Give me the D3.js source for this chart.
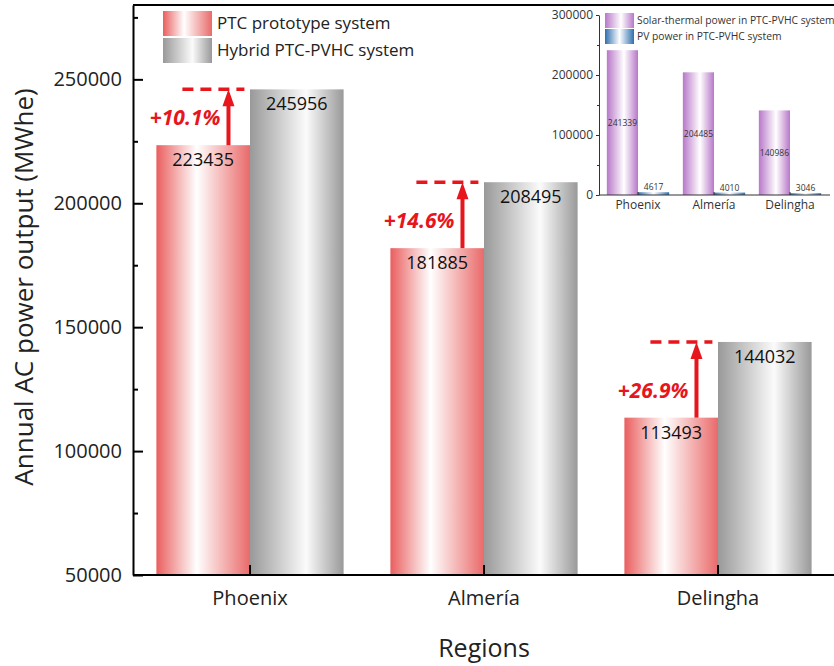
<!DOCTYPE html>
<html><head><meta charset="utf-8">
<script src="https://cdn.jsdelivr.net/npm/d3@7"></script>
<style>
html,body{margin:0;padding:0;background:#fff;overflow:hidden;}
svg{display:block;font-family:"Open Sans","Noto Sans",sans-serif;}
</style></head>
<body><svg id="chart" width="834" height="666"></svg>
<script>
// ---- data ----
const categories = ["Phoenix", "Almería", "Delingha"];
const ptcValues = [223435, 181885, 113493];
const hybridValues = [245956, 208495, 144032];
const increaseLabels = ["+10.1%", "+14.6%", "+26.9%"];
const seriesNames = ["PTC prototype system", "Hybrid PTC-PVHC system"];
const yTicks = [50000, 100000, 150000, 200000, 250000];
const yMinorTicks = [75000, 125000, 175000, 225000, 275000];

const insetSeriesNames = ["Solar-thermal power in PTC-PVHC system", "PV power in PTC-PVHC system"];
const solarThermalValues = [241339, 204485, 140986];
const pvValues = [4617, 4010, 3046];
const insetTicks = [0, 100000, 200000, 300000];
const insetMinorTicks = [50000, 150000, 250000];

// ---- setup ----
const svg = d3.select("#chart");
const defs = svg.append("defs");
function grad(id, stops) {
  const g = defs.append("linearGradient").attr("id", id)
    .attr("x1", "0%").attr("x2", "100%").attr("y1", "0%").attr("y2", "0%");
  stops.forEach(s => g.append("stop").attr("offset", s[0]).attr("stop-color", s[1]));
}
grad("gRed", [[0, "#ea5e5e"], [0.43, "#ffffff"], [1, "#ea6a6a"]]);
grad("gGrey", [[0, "#999999"], [0.6, "#fbfbfb"], [1, "#999999"]]);
grad("gPurple", [[0, "#b877c9"], [0.55, "#ffffff"], [1, "#b877c9"]]);
grad("gBlue", [[0, "#2f6fae"], [0.5, "#ffffff"], [1, "#2f6fae"]]);

const L = 133, R = 835, T = 5, B = 575;
const x = d3.scaleBand().domain(categories).range([L, R]).paddingInner(0.2).paddingOuter(0.1);
const xs = d3.scaleBand().domain([0, 1]).range([0, x.bandwidth()]);
const y = d3.scaleLinear().domain([50000, 280000]).range([B, T]);
const red = "#e8151d";

// top frame line (right edge of the frame lies outside the view)
svg.append("path").attr("d", `M${L},${T}H${R + 20}`)
  .attr("fill", "none").attr("stroke", "#000").attr("stroke-width", 2);

// bars
const groups = svg.append("g").selectAll("g").data(categories).join("g");
groups.append("rect")
  .attr("x", (d) => x(d) + xs(0)).attr("width", xs.bandwidth())
  .attr("y", (d, i) => y(ptcValues[i])).attr("height", (d, i) => B - y(ptcValues[i]))
  .attr("fill", "url(#gRed)");
groups.append("rect")
  .attr("x", (d) => x(d) + xs(1)).attr("width", xs.bandwidth())
  .attr("y", (d, i) => y(hybridValues[i])).attr("height", (d, i) => B - y(hybridValues[i]))
  .attr("fill", "url(#gGrey)");
// value labels
groups.append("text")
  .attr("x", d => x(d) + xs(0) + xs.bandwidth() / 2)
  .attr("y", (d, i) => y(ptcValues[i]) + 21)
  .attr("text-anchor", "middle").attr("font-size", 18).attr("fill", "#111")
  .text((d, i) => ptcValues[i]);
groups.append("text")
  .attr("x", d => x(d) + xs(1) + xs.bandwidth() / 2)
  .attr("y", (d, i) => y(hybridValues[i]) + 21)
  .attr("text-anchor", "middle").attr("font-size", 18).attr("fill", "#111")
  .text((d, i) => hybridValues[i]);

// annotations
groups.each(function(d, i) {
  const g = d3.select(this);
  const x0 = x(d) + xs(0);
  const bw = xs.bandwidth();
  const yTop = y(hybridValues[i]);
  const yLow = y(ptcValues[i]);
  const ax = x0 + bw * 0.77;
  g.append("line").attr("x1", x0 + 26).attr("x2", x0 + 88).attr("y1", yTop).attr("y2", yTop)
    .attr("stroke", red).attr("stroke-width", 3.5).attr("stroke-dasharray", "11,7");
  g.append("line").attr("x1", ax).attr("x2", ax).attr("y1", yLow).attr("y2", yTop + 14)
    .attr("stroke", red).attr("stroke-width", 4);
  g.append("path").attr("d", `M${ax},${yTop} L${ax - 6},${yTop + 17} L${ax + 6},${yTop + 17} Z`)
    .attr("fill", red);
  g.append("text").attr("x", ax - 8).attr("y", yLow - 20)
    .attr("text-anchor", "end").attr("font-size", 21).attr("font-weight", "bold")
    .attr("font-style", "italic").attr("fill", red).text(increaseLabels[i]);
});

// axes
const yAxis = svg.append("g").attr("transform", `translate(${L},0)`)
  .call(d3.axisLeft(y).tickValues(yTicks).tickSize(-10).tickSizeOuter(0).tickPadding(11).tickFormat(d3.format("d")));
yAxis.selectAll("text").attr("font-size", 20).attr("fill", "#222").attr("font-family", "Open Sans");
yAxis.select(".domain").attr("stroke-width", 2);
yAxis.selectAll(".tick line").attr("stroke-width", 2);
const yMinor = svg.append("g").attr("transform", `translate(${L},0)`)
  .call(d3.axisLeft(y).tickValues(yMinorTicks).tickSize(-5).tickSizeOuter(0).tickFormat(""));
yMinor.select(".domain").remove();
yMinor.selectAll(".tick line").attr("stroke-width", 2);

const xAxis = svg.append("g").attr("transform", `translate(0,${B})`)
  .call(d3.axisBottom(x).tickSize(-10).tickSizeOuter(0).tickPadding(16));
xAxis.selectAll("text").attr("font-size", 20).attr("fill", "#222").attr("font-family", "Open Sans");
xAxis.select(".domain").attr("d", `M${L},0H${R + 20}`).attr("stroke-width", 2);
xAxis.selectAll(".tick line").attr("stroke-width", 2);

// axis titles
svg.append("text").attr("transform", `translate(33,${287}) rotate(-90)`)
  .attr("text-anchor", "middle").attr("font-size", 26).attr("fill", "#222")
  .text("Annual AC power output (MWhe)");
svg.append("text").attr("x", 484).attr("y", 657).attr("text-anchor", "middle")
  .attr("font-size", 25).attr("fill", "#222").text("Regions");

// legend
const legend = svg.append("g");
["gRed", "gGrey"].forEach((gid, i) => {
  legend.append("rect").attr("x", 163).attr("y", 11 + i * 27).attr("width", 49).attr("height", 25)
    .attr("fill", `url(#${gid})`);
  legend.append("text").attr("x", 217).attr("y", 29 + i * 27).attr("font-size", 17)
    .attr("fill", "#222").text(seriesNames[i]);
});

// ---- inset ----
const iL = 599, iR = 830, iT = 15, iB = 195;
const xi = d3.scaleBand().domain(categories).range([600, 828]).paddingInner(0.18).paddingOuter(0.09);
const xis = d3.scaleBand().domain([0, 1]).range([0, xi.bandwidth()]);
const yi = d3.scaleLinear().domain([0, 300000]).range([iB, iT]);
const inset = svg.append("g");
const ig = inset.selectAll("g.ig").data(categories).join("g").attr("class", "ig");
ig.append("rect").attr("x", d => xi(d) + xis(0)).attr("width", xis.bandwidth())
  .attr("y", (d, i) => yi(solarThermalValues[i])).attr("height", (d, i) => iB - yi(solarThermalValues[i]))
  .attr("fill", "url(#gPurple)");
ig.append("rect").attr("x", d => xi(d) + xis(1)).attr("width", xis.bandwidth())
  .attr("y", (d, i) => yi(pvValues[i])).attr("height", (d, i) => iB - yi(pvValues[i]))
  .attr("fill", "url(#gBlue)");
ig.append("text").attr("x", d => xi(d) + xis(0) + xis.bandwidth() / 2)
  .attr("y", (d, i) => (yi(solarThermalValues[i]) + iB) / 2 + 3)
  .attr("text-anchor", "middle").attr("font-size", 8.5).attr("fill", "#333")
  .text((d, i) => solarThermalValues[i]);
ig.append("text").attr("x", d => xi(d) + xis(1) + xis.bandwidth() / 2)
  .attr("y", (d, i) => yi(pvValues[i]) - 2)
  .attr("text-anchor", "middle").attr("font-size", 8.5).attr("fill", "#333")
  .text((d, i) => pvValues[i]);

const yiAxis = inset.append("g").attr("transform", `translate(${iL},0)`)
  .call(d3.axisLeft(yi).tickValues(insetTicks).tickSize(3).tickSizeOuter(0).tickPadding(3).tickFormat(d3.format("d")));
yiAxis.selectAll("text").attr("font-size", 12).attr("fill", "#333").attr("font-family", "Open Sans");
yiAxis.selectAll("path,line").attr("stroke", "#333");
const yiMinor = inset.append("g").attr("transform", `translate(${iL},0)`)
  .call(d3.axisLeft(yi).tickValues(insetMinorTicks).tickSize(2).tickSizeOuter(0).tickFormat(""));
yiMinor.select(".domain").remove();
yiMinor.selectAll("line").attr("stroke", "#333");

const xiAxis = inset.append("g").attr("transform", `translate(0,${iB})`)
  .call(d3.axisBottom(xi).tickSize(-3).tickSizeOuter(0).tickPadding(5));
xiAxis.select(".domain").attr("d", `M${iL},0H${iR}`).attr("stroke", "#333");
xiAxis.selectAll("line").attr("stroke", "#333");
xiAxis.selectAll("text").attr("font-size", 12).attr("fill", "#333").attr("font-family", "Open Sans");

["gPurple", "gBlue"].forEach((gid, i) => {
  inset.append("rect").attr("x", 605).attr("y", 13 + i * 16).attr("width", 29).attr("height", 15)
    .attr("fill", `url(#${gid})`);
  inset.append("text").attr("x", 637).attr("y", 24 + i * 16).attr("font-size", 10.3)
    .attr("fill", "#333").text(insetSeriesNames[i]);
});
</script></body></html>
